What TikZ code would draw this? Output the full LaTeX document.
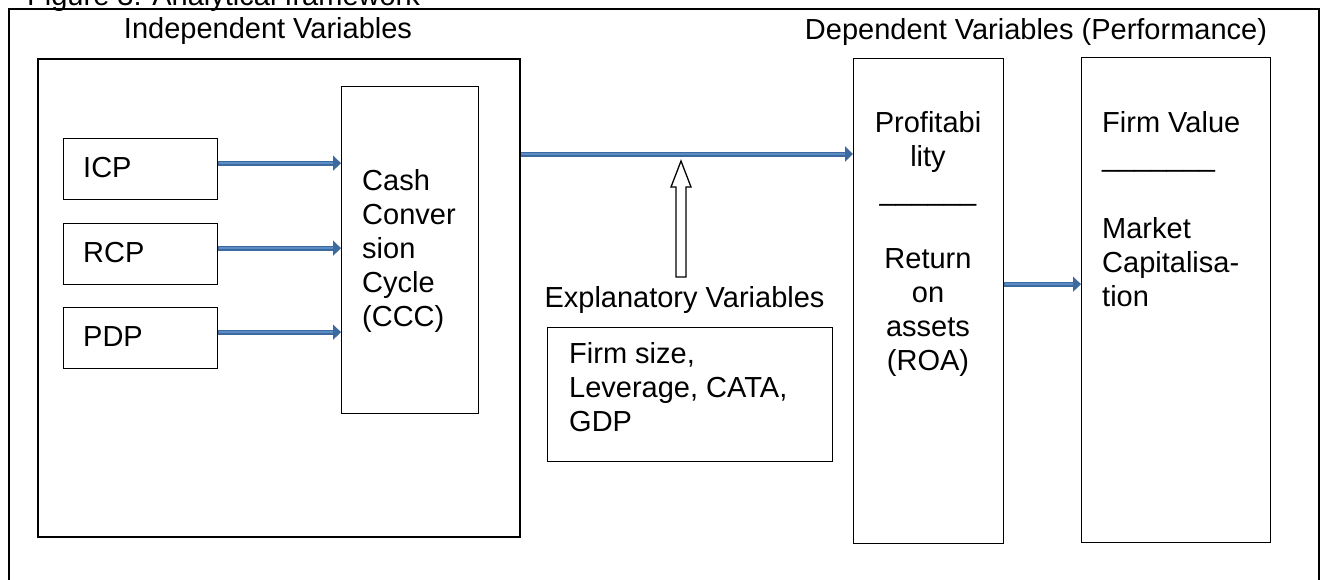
\documentclass[tikz,border=0pt]{standalone}
\usepackage{fontspec}
\setmainfont{Liberation Sans}
\usetikzlibrary{arrows.meta}
\definecolor{flowedge}{HTML}{3C6A9E}
\definecolor{flowfill}{HTML}{5B8CC6}
\begin{document}
\begin{tikzpicture}[x=1pt,y=-1pt,
  box/.style={draw=black, line width=1.3pt, inner sep=0pt, anchor=north west},
  bigbox/.style={box, line width=1.8pt},
  lbl/.style={inner sep=0pt, font=\fontsize{29}{34}\selectfont},
  flow/.style={draw=flowedge, line width=5pt, -{Triangle[length=8pt,width=15pt]}},
  flowcore/.style={draw=flowfill, line width=2pt, shorten >=8pt, shorten <=0.5pt},
  hollow/.style={draw=black, line width=1.3pt, fill=white}]
\useasboundingbox (0,0) rectangle (1320,579);
\clip (0,0) rectangle (1320,579);
% outer frame (bottom edge is outside the picture)
\draw[line width=1.8pt] (9,600) -- (9,9) -- (1319,9) -- (1319,600);
% title, cut off at the top
\node[lbl, anchor=base west] (title) at (27,5) {Figure 3: Analytical framework};
% headers
\node[lbl, anchor=base] (indep) at (268,38) {Independent Variables};
\node[lbl, anchor=base] (dep) at (1036,39) {Dependent Variables (Performance)};
% boxes
\node[bigbox, minimum width=482pt, minimum height=478pt] (big) at (37,58) {};
\node[box, minimum width=154pt, minimum height=61pt] (icp) at (63,138) {};
\node[box, minimum width=154pt, minimum height=61pt] (rcp) at (63,223) {};
\node[box, minimum width=154pt, minimum height=61pt] (pdp) at (63,307) {};
\node[box, minimum width=137pt, minimum height=327pt] (ccc) at (341,86) {};
\node[box, minimum width=285pt, minimum height=134pt] (expl) at (547,327) {};
\node[box, minimum width=150pt, minimum height=485pt] (prof) at (853,58) {};
\node[box, minimum width=189pt, minimum height=485pt] (firm) at (1081,57) {};
% texts
\node[lbl, anchor=base west] (icpt) at (83,177) {ICP};
\node[lbl, anchor=base west] (rcpt) at (83,262) {RCP};
\node[lbl, anchor=base west] (pdpt) at (83,346) {PDP};
\node[lbl, anchor=north west, align=left] (ccct) at (362,169) {Cash\\Conver\\sion\\Cycle\\(CCC)};
\node[lbl, anchor=base] (explt) at (684.5,307) {Explanatory Variables};
\node[lbl, anchor=north west, align=left] (explbox) at (569,342) {Firm size,\\Leverage, CATA,\\GDP};
\node[lbl, anchor=north, align=center] (proft) at (928,111) {Profitabi\\lity\\\_\_\_\_\_\_\\[34pt]Return\\on\\assets\\(ROA)};
\node[lbl, anchor=north west, align=left] (firmt) at (1102,111) {Firm Value\\\_\_\_\_\_\_\_\\[38pt]Market\\Capitalisa-\\tion};
% connectors
\foreach \src/\dst/\dy in {icp/ccc/6pt, rcp/ccc/6pt, pdp/ccc/6pt, prof/firm/17pt}{
  \draw[flow] ([yshift=\dy]\src.east) -- ([yshift=\dy]\src.east -| \dst.west);
  \draw[flowcore] ([yshift=\dy]\src.east) -- ([yshift=\dy]\src.east -| \dst.west);
}
\draw[flow] ([yshift=-96pt]big.north east) -- ([yshift=-96pt]big.north east -| prof.west);
\draw[flowcore] ([yshift=-96pt]big.north east) -- ([yshift=-96pt]big.north east -| prof.west);
% hollow block arrow from the explanatory variables up to the main arrow
\coordinate (hb) at (681,277);
\draw[hollow] (hb) ++(-5,0) -- ++(10,0) -- ++(0,-90) -- ++(5,0) -- ++(-10,-26) -- ++(-10,26) -- ++(5,0) -- cycle;
\end{tikzpicture}
\end{document}
